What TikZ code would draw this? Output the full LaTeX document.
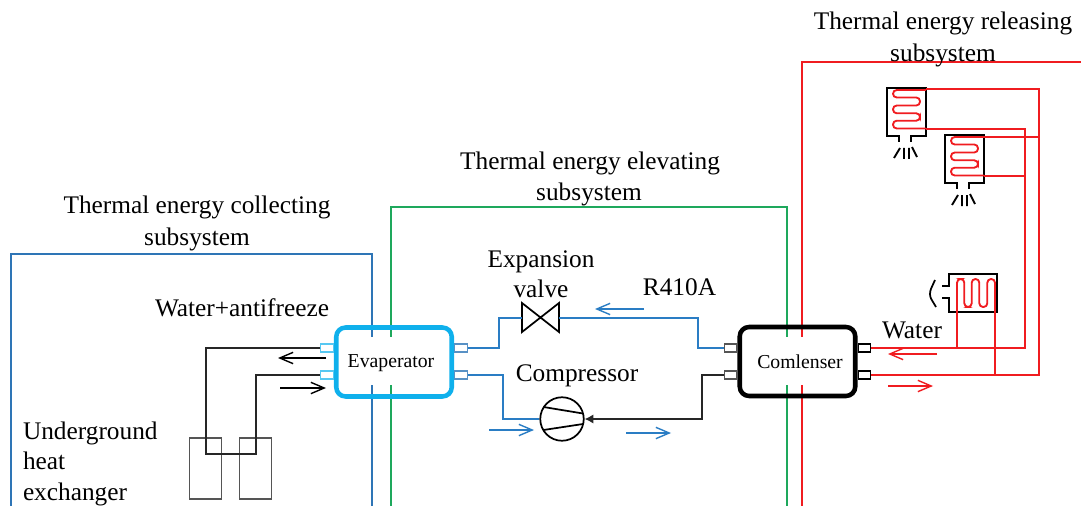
\documentclass[tikz,border=0pt]{standalone}
\usepackage{fontspec}
\setmainfont{Liberation Serif}
\usetikzlibrary{arrows.meta,calc}
\definecolor{fblue}{HTML}{2E75B6}
\definecolor{pblue}{HTML}{2A7DC4}
\definecolor{fgreen}{HTML}{1EA85C}
\definecolor{fred}{HTML}{F01C20}
\definecolor{ecyan}{HTML}{0FB0EC}
\definecolor{pgray}{HTML}{555555}
\newcommand{\bigtxt}{\fontsize{19}{19}\selectfont}
\newcommand{\smalltxt}{\fontsize{14.8}{14.8}\selectfont}
\tikzset{
 x=0.75pt,y=-0.75pt,
 frame/.style={line width=1.2pt},
 pipe/.style={line width=1.3pt},
 lab/.style={font=\bigtxt,inner sep=0pt,outer sep=0pt,text=black,text height=0.68em,text depth=0.2em,yshift=-3.6pt},
 unit/.style={draw,line width=3.4pt,rounded corners=7pt,minimum width=115.5*0.75pt,minimum height=69*0.75pt,inner sep=0pt,font=\smalltxt},
 backing/.style={fill=white,inner sep=0pt,minimum width=94*0.75pt,minimum height=48*0.75pt},
 port/.style={draw,line width=0.9pt,fill=white,minimum width=12.5*0.75pt,minimum height=8*0.75pt,inner sep=0pt},
 flow/.style={-{Straight Barb[length=10pt,width=8.5pt]},line width=1.05pt},
 heater/.style={line width=1.9pt,black},
 coil/.style={line width=1.4pt,fred,rounded corners=2.8pt},
 hole/.style={draw=pgray,line width=1pt,inner sep=0pt,minimum width=32.5*0.75pt,minimum height=61*0.75pt},
}
\begin{document}
\begin{tikzpicture}
\useasboundingbox (0,0) rectangle (1081,506);
% frames
\draw[frame,fblue] (11,506) -- (11,254) -- (372,254) -- (372,506);
\draw[frame,fgreen] (391,506) -- (391,207) -- (787,207) -- (787,506);
\draw[frame,fred] (802,506) -- (802,62) -- (1081,62);
% white backings behind the unit labels
\node[backing] at (392,361) {};
\node[backing] at (798,361) {};
% units
\node[unit,draw=ecyan] (evap) at (394,362) {};
\node[font=\smalltxt,inner sep=0pt] (evaptxt) at (391,363.5) {Evaperator};
\node[unit] (cond) at (797.5,361.5) {};
\node[font=\smalltxt,inner sep=0pt] (condtxt) at (800,361.5) {Comlenser};
% ports
\node[port,draw=ecyan!70,anchor=east] (eL1) at (evap.west |- 0,348) {};
\node[port,draw=ecyan!70,anchor=east] (eL2) at (evap.west |- 0,375) {};
\node[port,draw=fblue!80,anchor=west] (eR1) at (evap.east |- 0,348) {};
\node[port,draw=fblue!80,anchor=west] (eR2) at (evap.east |- 0,375) {};
\node[port,draw=pgray,anchor=east] (cL1) at (cond.west |- 0,348) {};
\node[port,draw=pgray,anchor=east] (cL2) at (cond.west |- 0,375) {};
\node[port,draw=black,anchor=west] (cR1) at (cond.east |- 0,348) {};
\node[port,draw=black,anchor=west] (cR2) at (cond.east |- 0,375) {};
% ground holes
\node[hole] (h1) at (205.5,468.5) {};
\node[hole] (h2) at (255.5,468.5) {};
\draw[line width=1.6pt,black!85] (eL1.west) -| (206,454) -- (256,454) |- (eL2.west);
\draw[flow] (326,358) -- (278,358);
\draw[flow] (280,388) -- (326,388);
% valve
\coordinate (vW) at (522,318);
\coordinate (vE) at (559,318);
\draw[line width=1.3pt,black,line join=miter] (522,303) -- (559,332) -- (559,303) -- (522,332) -- cycle;
\draw[pipe,pblue] (eR1.east) -- (499,348) -- (499,318) -- (vW);
\draw[pipe,pblue] (vE) -- (698,318) -- (698,348) -- (cL1.west);
% compressor
\node[circle,draw,line width=1.3pt,minimum size=43.5*0.75pt,inner sep=0pt,fill=white] (comp) at (562,419) {};
\draw[line width=1.3pt] (543.5,407) -- (583,413.5);
\draw[line width=1.3pt] (543.5,430) -- (583,424);
\draw[pipe,pblue] (eR2.east) -- (503,375) |- (comp.west);
\draw[pipe,black!85,-{Latex[length=6.5pt,width=7pt]}] (cL2.west) -- (702,375) |- (comp.east);
\draw[flow,pblue] (644,309) -- (595,309);
\draw[flow,pblue] (489,430) -- (534,430);
\draw[flow,pblue] (626,433) -- (671,433);
% heaters 1,2
\foreach \dx/\dy in {0/0,58/47}{
\begin{scope}[shift={(\dx*0.75pt,-\dy*0.75pt)}]
\draw[heater] (899,142) -- (899,136) -- (887,136) -- (887,88) -- (926,88) -- (926,136) -- (911,136) -- (911,142);
\draw[heater,line width=1.4pt] (900,148) -- (894,158) (904,148) -- (904,159) (909,148) -- (909,159) (912,147) -- (917,157);
\draw[coil] (926,90) -- (893,90) -- (893,97.5) -- (920,97.5) -- (920,105.5) -- (893,105.5) -- (893,113.3) -- (920,113.3) -- (920,120.7) -- (893,120.7) -- (893,128.5) -- (926,128.5);
\end{scope}}
% heater 3
\draw[heater] (942,286) -- (949,286) -- (949,274) -- (997,274) -- (997,312) -- (949,312) -- (949,298) -- (942,298);
\draw[heater,line width=1.3pt,rounded corners=2pt] (935,280) -- (930,291) -- (930,297) -- (936,307);
\draw[coil] (957,312) -- (957,279) -- (964.3,279) -- (964.3,307) -- (971.7,307) -- (971.7,279) -- (979.3,279) -- (979.3,307) -- (987.3,307) -- (987.3,279) -- (995,279) -- (995,312);
% water pipes
\coordinate (tA) at (926,89);
\coordinate (tB) at (926,129);
\draw[pipe,fred] (cR1.east) -- (1025,348) -- (1025,129) -- (tB);
\draw[pipe,fred] (cR2.east) -- (1039,375) -- (1039,89) -- (tA);
\draw[pipe,fred] (984,137) -- (1039,137);
\draw[pipe,fred] (984,176) -- (1025,176);
\draw[pipe,fred] (957,312) -- (957,348);
\draw[pipe,fred] (995,312) -- (995,375);
\draw[flow,fred] (937,354) -- (888,354);
\draw[flow,fred] (888,386) -- (933,386);
% labels
\node[lab] (t1) at (943,22) {Thermal energy releasing};
\node[lab] (t2) at (943,54) {subsystem};
\node[lab] (t3) at (590,162) {Thermal energy elevating};
\node[lab] (t4) at (589,192) {subsystem};
\node[lab] (t5) at (197,206) {Thermal energy collecting};
\node[lab] (t6) at (197,237) {subsystem};
\node[lab] (t7) at (242,308) {Water+antifreeze};
\node[lab] (t8) at (541,259) {Expansion};
\node[lab] (t9) at (541,289) {valve};
\node[lab] (t10) at (679.5,287) {R410A};
\node[lab] (t11) at (577,373) {Compressor};
\node[lab] (t12) at (912,330) {Water};
\node[lab,anchor=west] (t13) at (23,431) {Underground};
\node[lab,anchor=west] (t14) at (23,461) {heat};
\node[lab,anchor=west] (t15) at (23,492) {exchanger};
\end{tikzpicture}
\end{document}
